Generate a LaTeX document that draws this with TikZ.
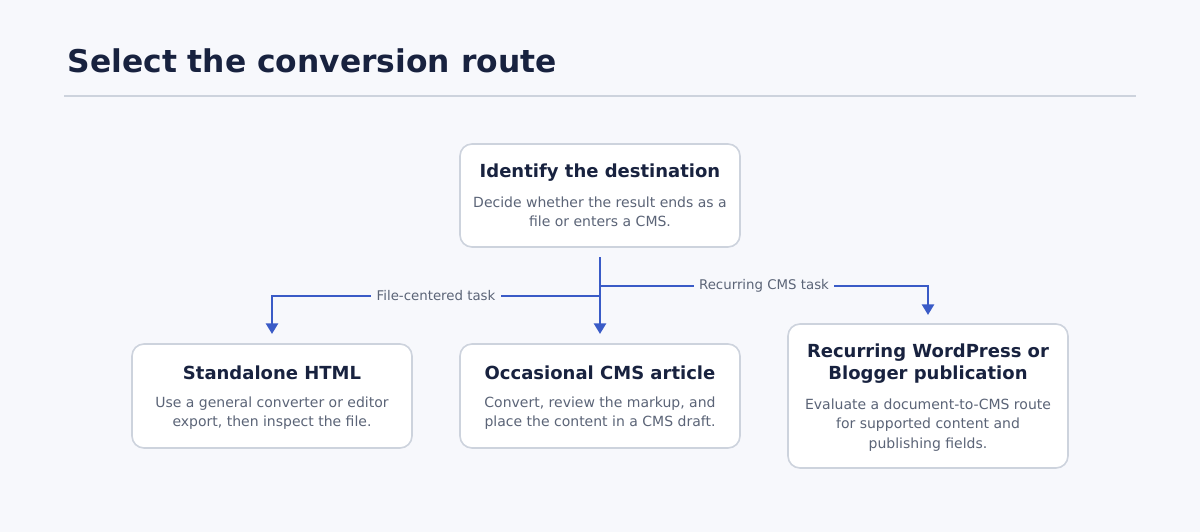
\documentclass[tikz,border=0pt]{standalone}
\usepackage{fontspec}
\setmainfont{DejaVu Sans}
\usetikzlibrary{arrows.meta}
\definecolor{bg}{HTML}{F7F8FC}
\definecolor{ink}{HTML}{18223F}
\definecolor{sub}{HTML}{5B6477}
\definecolor{edge}{HTML}{CDD3DD}
\definecolor{flow}{HTML}{3A5BC7}
\begin{document}
\begin{tikzpicture}[x=0.75pt,y=-0.75pt,
 box/.style={draw=edge,line width=1.2pt,fill=white,rounded corners=9pt},
 ttl/.style={font=\bfseries\fontsize{13.5}{16.5}\selectfont,text=ink,align=center},
 body/.style={font=\fontsize{10.5}{14.5}\selectfont,text=sub,align=center},
 con/.style={draw=flow,line width=2.2pt,-{Triangle[length=8pt,width=9pt]}},
 lab/.style={fill=bg,inner sep=4pt,font=\fontsize{10}{12}\selectfont,text=sub}]
\fill[bg] (0,0) rectangle (1200,532);
\useasboundingbox (0,0) rectangle (1200,532);
\node[anchor=base west,font=\bfseries\fontsize{23.5}{28}\selectfont,text=ink] (title) at (63,72) {Select the conversion route};
\draw[edge,line width=1.2pt] (64,96) -- (1136,96);
\draw[box] (460,144) rectangle (740,247);
\node[ttl] (t1) at (600,173) {Identify the destination};
\node[body] (b1) at (600,212) {Decide whether the result ends as a\\file or enters a CMS.};
\draw[box] (132,344) rectangle (412,448);
\node[ttl] (t2) at (272,373) {Standalone HTML};
\node[body] (b2) at (272,413) {Use a general converter or editor\\export, then inspect the file.};
\draw[box] (460,344) rectangle (740,448);
\node[ttl] (t3) at (600,373) {Occasional CMS article};
\node[body] (b3) at (600,413) {Convert, review the markup, and\\place the content in a CMS draft.};
\draw[box] (788,324) rectangle (1068,468);
\node[ttl] (t4) at (928,364) {Recurring WordPress or\\Blogger publication};
\node[body] (b4) at (928,425) {Evaluate a document-to-CMS route\\for supported content and\\publishing fields.};
\coordinate (s) at (600,257);
\coordinate (e3) at (600,334);
\coordinate (e2) at (272,334);
\coordinate (e4) at (928,315);
\draw[con] (s) -- (e3);
\draw[con] (600,296) -- (272,296) -- (e2);
\draw[con] (600,286) -- (928,286) -- (e4);
\node[lab] (l1) at (436,296) {File-centered task};
\node[lab] (l2) at (764,286) {Recurring CMS task};
\end{tikzpicture}
\end{document}
